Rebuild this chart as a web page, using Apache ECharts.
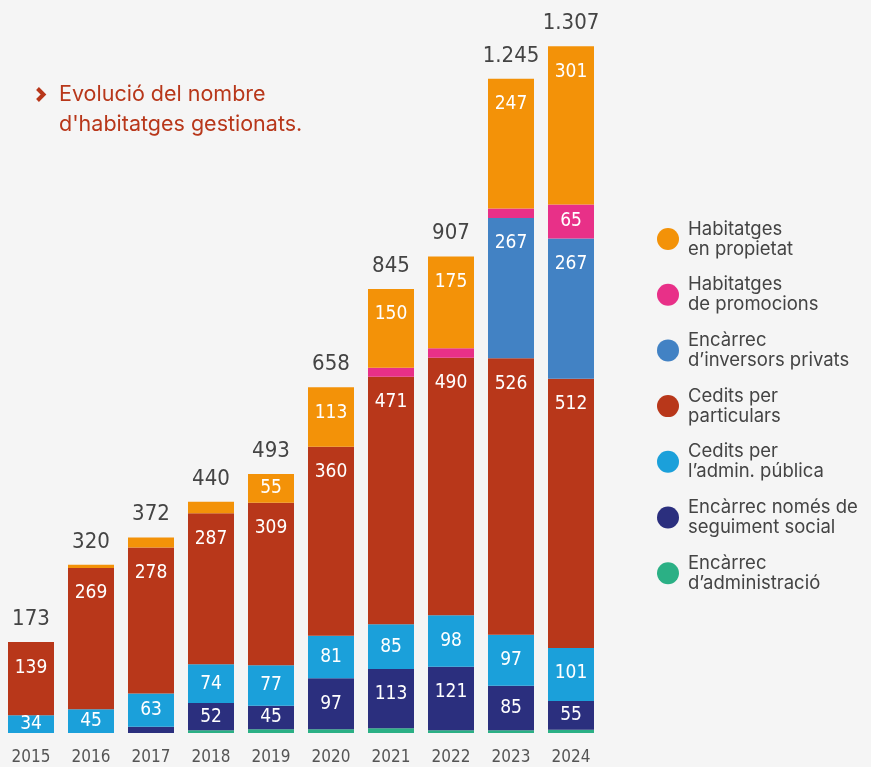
<!DOCTYPE html>
<html><head><meta charset="utf-8">
<script src="https://cdn.jsdelivr.net/npm/echarts@6/dist/echarts.min.js"></script>
<style>html,body{margin:0;padding:0;background:#f5f5f5;}#c{width:871px;height:767px;}</style>
</head><body><div id="c"></div>
<script>
const years = ['2015','2016','2017','2018','2019','2020','2021','2022','2023','2024'];
const totals = [173,320,372,440,493,658,845,907,1245,1307];
const administracio = [0,0,0,5,7,7,9,5,5,6];
const seguimentSocial = [0,0,12,52,45,97,113,121,85,55];
const cedidsAdmin = [34,45,63,74,77,81,85,98,97,101];
const cedidsParticulars = [139,269,278,287,309,360,471,490,526,512];
const inversorsPrivats = [0,0,0,0,0,0,0,0,267,267];
const promocions = [0,0,0,0,0,0,17,18,18,65];
const propietat = [0,6,19,22,55,113,150,175,247,301];

const NUM_FONT = "'Liberation Sans Narrow','DejaVu Sans Condensed',sans-serif";
const TXT_FONT = "'Inter','Noto Sans',sans-serif";
const YMAX = 1395, PLOT_H = 733;
const pxPerUnit = PLOT_H / YMAX;

const defs = [
  {name:'Encàrrec\nd’administració', data:administracio, color:'#2bb085'},
  {name:'Encàrrec només de\nseguiment social', data:seguimentSocial, color:'#2b2f7e'},
  {name:'Cedits per\nl’admin. pública', data:cedidsAdmin, color:'#1ba0da'},
  {name:'Cedits per\nparticulars', data:cedidsParticulars, color:'#b8371a'},
  {name:'Encàrrec\nd’inversors privats', data:inversorsPrivats, color:'#4282c4'},
  {name:'Habitatges\nde promocions', data:promocions, color:'#e83088'},
  {name:'Habitatges\nen propietat', data:propietat, color:'#f39208'}
];

function fmt(n){ return String(n).replace(/\B(?=(\d{3})+(?!\d))/g,'.'); }

const series = defs.map(d => ({
  name: d.name, type:'bar', stack:'s', barWidth:46,
  itemStyle:{color:d.color},
  emphasis:{disabled:true},
  data: d.data.map(v => {
    const h = v * pxPerUnit;
    const item = {value:v};
    if (v >= 30) {
      item.label = h < 50
        ? {show:true, position:'inside'}
        : {show:true, position:'insideTop', distance:16};
    } else item.label = {show:false};
    return item;
  }),
  label:{color:'#fff', fontFamily:NUM_FONT, fontSize:19, lineHeight:19, formatter: p => p.value}
}));

series.push({
  name:'total', type:'bar', stack:'s', barWidth:46,
  data: totals.map(() => 0),
  itemStyle:{color:'transparent'},
  label:{show:true, position:'top', distance:12, color:'#444', fontFamily:NUM_FONT, fontSize:22,
    formatter: p => fmt(totals[p.dataIndex])}
});

const chart = echarts.init(document.getElementById('c'), null, {renderer:'canvas'});
chart.setOption({
  backgroundColor:'#f5f5f5',
  animation:false,
  grid:{left:1, width:600, top:0, height:PLOT_H},
  xAxis:{type:'category', data:years, axisLine:{show:false}, axisTick:{show:false},
    axisLabel:{color:'#555', fontFamily:NUM_FONT, fontSize:17, margin:16}},
  yAxis:{type:'value', min:0, max:YMAX, interval:465, show:false, splitLine:{show:false}},
  legend:{orient:'vertical', left:652, top:214, itemWidth:22, itemHeight:22, itemGap:15.7,
    icon:'circle', selectedMode:false,
    data: defs.slice().reverse().map(d => d.name),
    textStyle:{color:'#444', fontFamily:TXT_FONT, fontSize:18.5, lineHeight:20, padding:[0,0,0,4]}},
  graphic:[
    {type:'polyline', shape:{points:[[37.5,88.5],[43.5,94.5],[37.5,100.5]]},
      style:{stroke:'#b8371a', lineWidth:4, fill:null}},
    {type:'text', left:59, top:80, style:{text:'Evolució del nombre\nd\'habitatges gestionats.',
      fill:'#b8371a', font:"21.5px 'Inter','Noto Sans',sans-serif", lineHeight:30}}
  ],
  series
});
</script></body></html>
